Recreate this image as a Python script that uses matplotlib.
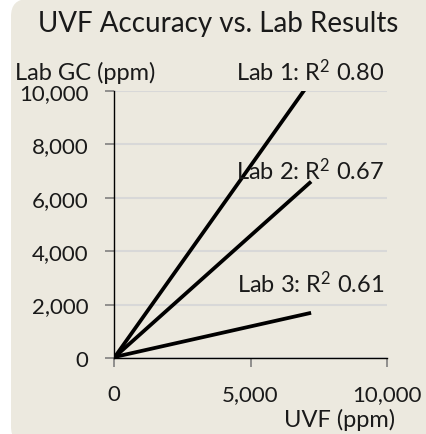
import matplotlib
matplotlib.use("Agg")
from matplotlib import pyplot as plt
from matplotlib.patches import FancyBboxPatch

# trendline end points (UVF ppm, Lab GC ppm)
lab_names = ['Lab 1', 'Lab 2', 'Lab 3']
r2 = ['0.80', '0.67', '0.61']
uvf_x = [[30, 7220], [30, 7220], [30, 7220]]
lab_y = [[40, 10380], [40, 6600], [40, 1690]]

x_ticks = [0, 5000, 10000]
y_ticks = [0, 2000, 4000, 6000, 8000, 10000]

W, H = 426, 435
bg = '#ECE9DF'
plt.rcParams['font.family'] = ['Lato', 'DejaVu Sans']
plt.rcParams['mathtext.fontset'] = 'custom'
plt.rcParams['mathtext.rm'] = 'Lato'
plt.rcParams['mathtext.it'] = 'Lato'
plt.rcParams['mathtext.default'] = 'rm'

fig = plt.figure(figsize=(W / 100, H / 100), dpi=100)
fig.patch.set_facecolor('white')

# rounded beige panel behind everything
panel = FancyBboxPatch((11 / W, -10 / H), 425 / W, 445 / H,
                       boxstyle='round,pad=0,rounding_size=0.04',
                       transform=fig.transFigure, facecolor=bg,
                       edgecolor='none', zorder=-10)
fig.patches.append(panel)

ax = fig.add_axes([114 / W, 1 - 359 / H, 273 / W, 267.3 / H])
ax.set_facecolor('none')

for xs, ys in zip(uvf_x, lab_y):
    ax.plot(xs, ys, color='black', lw=2.7, solid_capstyle='butt', zorder=3)

ax.set_xlim(0, 10000)
ax.set_ylim(0, 10000)
ax.set_xticks(x_ticks)
ax.set_yticks(y_ticks)
ax.xaxis.set_major_formatter(matplotlib.ticker.StrMethodFormatter('{x:,.0f}'))
ax.yaxis.set_major_formatter(matplotlib.ticker.StrMethodFormatter('{x:,.0f}'))

ax.grid(axis='y', color='#D8D8D8', lw=1.5, zorder=0)
ax.set_axisbelow(True)
for s in ['top', 'right']:
    ax.spines[s].set_visible(False)
for s in ['left', 'bottom']:
    ax.spines[s].set_color('black')
    ax.spines[s].set_linewidth(1.0)

ax.tick_params(axis='both', length=6.5, width=1.2, color='#808080',
               labelsize=16, labelcolor='#1a1a1a')
ax.tick_params(axis='y', pad=12)
ax.tick_params(axis='x', pad=12)

# texts placed in figure pixels
def ftext(x, y, s, **kw):
    fig.text(x / W, 1 - y / H, s, color='#1a1a1a', **kw)

ftext(218, 32, 'UVF Accuracy vs. Lab Results', fontsize=20, ha='center', va='baseline')
ftext(15, 80, 'Lab GC (ppm)', fontsize=17, ha='left', va='baseline')
ftext(395, 427, 'UVF (ppm)', fontsize=17, ha='right', va='baseline')
label_y = [81, 180, 293]
for name, r, yy in zip(lab_names, r2, label_y):
    ftext(384, yy, name + ': R$^2$ ' + r, fontsize=17, ha='right', va='baseline', zorder=5)

fig.savefig('out.png', dpi=100, facecolor='white')
